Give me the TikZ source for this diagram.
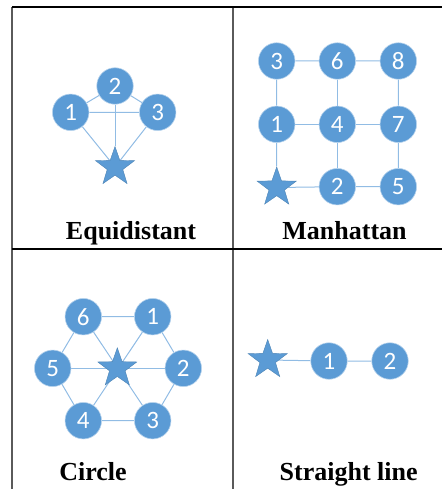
\documentclass[tikz,border=0pt]{standalone}
\usepackage{fontspec}
\setmainfont{Liberation Serif}
\newfontfamily\numfont{Carlito}
\usepackage{xcolor}
\usetikzlibrary{shapes.geometric,backgrounds}
\definecolor{nodeblue}{RGB}{91,155,213}
\definecolor{linkblue}{RGB}{145,188,228}
\definecolor{rulegray}{RGB}{90,90,90}

\begin{document}
\begin{tikzpicture}[x=1pt,y=-1pt,
    pt/.style={circle,fill=nodeblue,draw=white!55!nodeblue,line width=0.6pt,
      minimum size=36.5pt,inner sep=0pt,text=white,
      font=\numfont\fontsize{25}{25}\selectfont},
    base/.style={star,star points=5,star point ratio=2.5,fill=nodeblue,
      draw=nodeblue!85!black,line width=0.4pt,minimum size=41pt,inner sep=0pt},
    lnk/.style={draw=linkblue,line width=1pt},
    lbl/.style={anchor=base,inner sep=0pt,font=\bfseries\fontsize{26}{28}\selectfont}]
  \useasboundingbox (0,0) rectangle (443,489);
  % table
  \draw[rulegray,line width=1.6pt] (12,7) -- (12,489);
  \draw[rulegray,line width=1.6pt] (233,7) -- (233,489);
  \draw[line width=1.2pt] (12,7) -- (442,7);
  \draw[line width=1.2pt] (12,249) -- (442,249);

  % equidistant
  \node[pt] (e1) at (70.7,112.3) {1};
  \node[pt] (e2) at (115,86) {2};
  \node[pt] (e3) at (157.7,112.3) {3};
  \node[base] (eb) at (115,167) {};
  \node[lbl] (el) at (131,239) {Equidistant};

  % manhattan
  \node[pt] (m3) at (276.7,61) {3};
  \node[pt] (m6) at (337.3,61) {6};
  \node[pt] (m8) at (398.3,61) {8};
  \node[pt] (m1) at (276.7,124.3) {1};
  \node[pt] (m4) at (337.3,124.3) {4};
  \node[pt] (m7) at (398.3,124.3) {7};
  \node[base] (mb) at (276.7,187.5) {};
  \node[pt] (m2) at (337.3,186.7) {2};
  \node[pt] (m5) at (398.3,186.7) {5};
  \node[lbl] (ml) at (344.5,239) {Manhattan};

  % circle
  \node[pt] (c6) at (83.3,316.7) {6};
  \node[pt] (c1) at (152.7,316.7) {1};
  \node[pt] (c5) at (52.7,368.3) {5};
  \node[pt] (c2) at (183.3,368.3) {2};
  \node[pt] (c4) at (83.3,420.7) {4};
  \node[pt] (c3) at (152.7,420.7) {3};
  \node[base] (cb) at (117.3,368.3) {};
  \node[lbl] (cl) at (93,480) {Circle};

  % straight line
  \node[base] (sb) at (267.7,360) {};
  \node[pt] (s1) at (329,361) {1};
  \node[pt] (s2) at (390,361) {2};
  \node[lbl] (sl) at (348.7,480) {Straight line};

  \begin{scope}[on background layer]
    \draw[lnk] (e1) -- (e2) -- (e3) -- (e1);
    \foreach \n in {e1,e2,e3} \draw[lnk] (\n) -- (eb);
    \draw[lnk] (m3) -- (m6) -- (m8) -- (m7) -- (m5) -- (m2) -- (mb) -- (m1) -- (m3);
    \draw[lnk] (m1) -- (m4) -- (m7);
    \draw[lnk] (m6) -- (m4) -- (m2);
    \draw[lnk] (c6) -- (c1) -- (c2) -- (c3) -- (c4) -- (c5) -- (c6);
    \draw[lnk] (c6) -- (c3);
    \draw[lnk] (c1) -- (c4);
    \draw[lnk] (c5) -- (c2);
    \draw[lnk] (sb) -- (s1) -- (s2);
  \end{scope}
\end{tikzpicture}
\end{document}
